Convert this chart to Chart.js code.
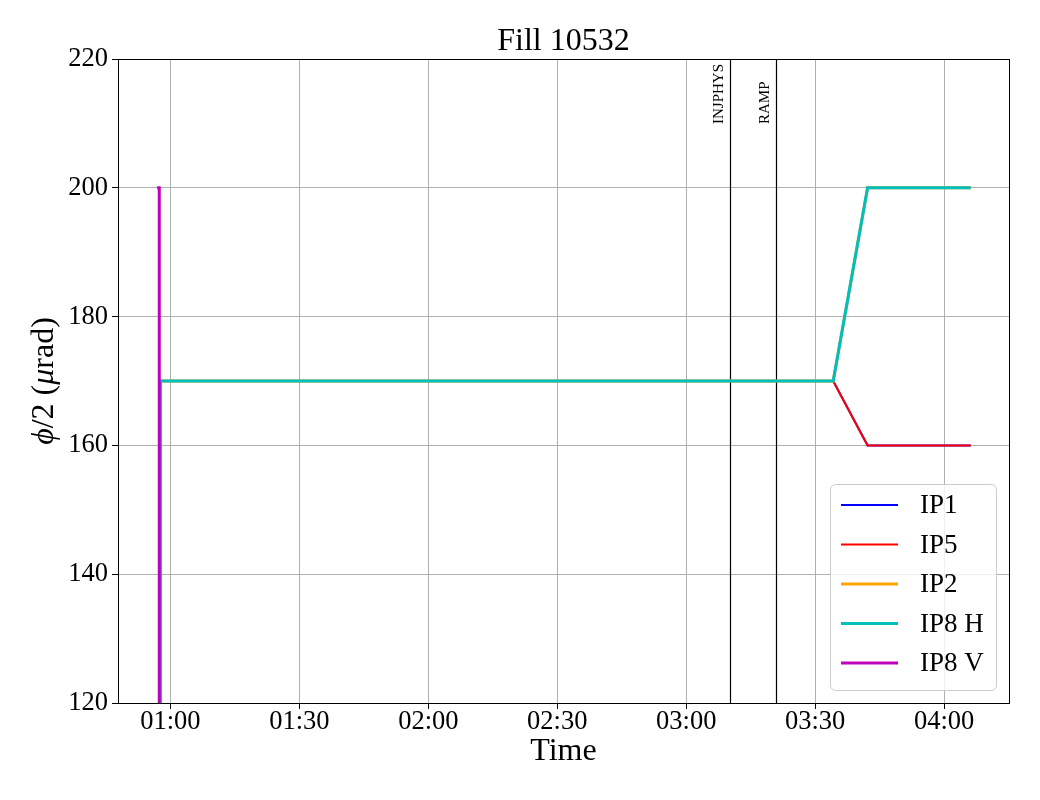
<!DOCTYPE html>
<html lang="en">
<head>
  <meta charset="UTF-8">
  <title>Fill 10532</title>
  <script src="https://cdn.jsdelivr.net/npm/chart.js"></script>
  <style>
    body {
      margin: 0;
      background-color: #fff;
    }

    #container {
      width: 1040px;
      height: 800px;
      position: relative;
    }
  </style>
</head>
<body>
  <div id="container">
    <canvas id="crossingChart" width="1040" height="800"></canvas>
  </div>

  <script>
    const SERIF = "'Liberation Serif', 'DejaVu Serif', serif";

    // time in minutes after midnight
    const xTicks = [60, 90, 120, 150, 180, 210, 240];
    const xTickLabels = ['01:00', '01:30', '02:00', '02:30', '03:00', '03:30', '04:00'];
    const yTicks = [120, 140, 160, 180, 200, 220];

    const seriesNames = ['IP1', 'IP5', 'IP2', 'IP8 H', 'IP8 V'];
    const seriesColors = ['#0000ff', '#ff0000', '#ffa500', '#00bfbf', '#bf00bf'];
    const seriesWidths = [2, 2, 3, 3, 3];

    const tMain = [57.6, 57.7, 214.2, 222.2, 246.2];
    const ip1 = [0, 170, 170, 160, 160];
    const ip5 = [0, 170, 170, 160, 160];
    const ip2 = [0, 170, 170, 200, 200];
    const ip8h = [0, 170, 170, 200, 200];
    const tIP8V = [56.9, 57.4, 57.4, 246.2];
    const ip8v = [200, 200, 0, 0];

    const markerTimes = [190.2, 200.9];
    const markerLabels = ['INJPHYS', 'RAMP'];

    const toPoints = (ts, vs) => ts.map((t, i) => ({ x: t, y: vs[i] }));
    const seriesData = [
      toPoints(tMain, ip1),
      toPoints(tMain, ip5),
      toPoints(tMain, ip2),
      toPoints(tMain, ip8h),
      toPoints(tIP8V, ip8v)
    ];

    // later series are drawn on top, like the original plot
    const datasets = seriesNames.map((name, i) => ({
      label: name,
      data: seriesData[i],
      borderColor: seriesColors[i],
      backgroundColor: seriesColors[i],
      borderWidth: seriesWidths[i],
      order: seriesNames.length - i,
      pointRadius: 0,
      tension: 0,
      fill: false
    }));

    // vertical phase markers, drawn under the data
    const markerPlugin = {
      id: 'markers',
      beforeDatasetsDraw(chart) {
        const { ctx, chartArea, scales } = chart;
        ctx.save();
        markerTimes.forEach((t, i) => {
          const x = Math.round(scales.x.getPixelForValue(t)) + 0.5;
          ctx.strokeStyle = '#000';
          ctx.lineWidth = 1.2;
          ctx.beginPath();
          ctx.moveTo(x, chartArea.top);
          ctx.lineTo(x, chartArea.bottom);
          ctx.stroke();

          ctx.save();
          ctx.translate(x - 11, chartArea.top + 65);
          ctx.rotate(-Math.PI / 2);
          ctx.font = '15px ' + SERIF;
          ctx.fillStyle = '#000';
          ctx.textAlign = 'left';
          ctx.textBaseline = 'middle';
          ctx.fillText(markerLabels[i], 0, 0);
          ctx.restore();
        });
        ctx.restore();
      }
    };

    // frame, titles and legend box
    const decorPlugin = {
      id: 'decor',
      afterDraw(chart) {
        const { ctx, chartArea } = chart;
        const { left, right, top, bottom } = chartArea;
        ctx.save();

        ctx.strokeStyle = '#000';
        ctx.lineWidth = 1;
        ctx.strokeRect(Math.round(left) + 0.5, Math.round(top) + 0.5,
          Math.round(right - left), Math.round(bottom - top));

        ctx.fillStyle = '#000';
        ctx.textAlign = 'center';
        ctx.textBaseline = 'middle';
        ctx.font = '32px ' + SERIF;
        ctx.fillText('Fill 10532', (left + right) / 2, 42);
        ctx.fillText('Time', (left + right) / 2, 752);

        // y label with italic phi and mu
        const parts = [
          ['ϕ', true], ['/2 (', false], ['μ', true], ['rad)', false]
        ];
        const fontFor = it => (it ? 'italic ' : '') + '32px ' + SERIF;
        let total = 0;
        parts.forEach(([s, it]) => { ctx.font = fontFor(it); total += ctx.measureText(s).width; });
        ctx.translate(45, (top + bottom) / 2);
        ctx.rotate(-Math.PI / 2);
        ctx.textAlign = 'left';
        let px = -total / 2;
        parts.forEach(([s, it]) => {
          ctx.font = fontFor(it);
          ctx.fillText(s, px, 0);
          px += ctx.measureText(s).width;
        });
        ctx.setTransform(1, 0, 0, 1, 0, 0);

        // legend
        const bx = 830, by = 484, bw = 166, bh = 206;
        ctx.beginPath();
        ctx.roundRect(bx + 0.5, by + 0.5, bw, bh, 5);
        ctx.fillStyle = 'rgba(255,255,255,0.8)';
        ctx.fill();
        ctx.strokeStyle = '#cccccc';
        ctx.lineWidth = 1;
        ctx.stroke();

        ctx.font = '27px ' + SERIF;
        ctx.textAlign = 'left';
        ctx.textBaseline = 'middle';
        seriesNames.forEach((name, i) => {
          const y = by + 21 + i * 39.5;
          ctx.strokeStyle = seriesColors[i];
          ctx.lineWidth = seriesWidths[i];
          ctx.beginPath();
          ctx.moveTo(841, y);
          ctx.lineTo(898, y);
          ctx.stroke();
          ctx.fillStyle = '#000';
          ctx.fillText(name, 920, y + 1);
        });

        ctx.restore();
      }
    };

    const config = {
      type: 'line',
      data: { datasets },
      options: {
        responsive: false,
        animation: false,
        layout: {
          padding: { top: 59, right: 31, left: 0, bottom: 0 }
        },
        scales: {
          x: {
            type: 'linear',
            min: 47.8,
            max: 255.1,
            afterBuildTicks: scale => {
              scale.ticks = xTicks.map(v => ({ value: v }));
            },
            afterFit: scale => { scale.height = 97; },
            ticks: {
              autoSkip: false,
              maxRotation: 0,
              padding: -3,
              color: '#000',
              font: { family: SERIF, size: 26.5 },
              callback: v => xTickLabels[xTicks.indexOf(v)]
            },
            grid: { color: '#b0b0b0', tickColor: '#000', tickLength: 6, lineWidth: 1 },
            border: { color: '#000', width: 1 }
          },
          y: {
            min: 120,
            max: 220,
            afterBuildTicks: scale => {
              scale.ticks = yTicks.map(v => ({ value: v }));
            },
            afterFit: scale => { scale.width = 118; },
            ticks: {
              padding: 4,
              color: '#000',
              font: { family: SERIF, size: 26.5 }
            },
            grid: { color: '#b0b0b0', tickColor: '#000', tickLength: 6, lineWidth: 1 },
            border: { color: '#000', width: 1 }
          }
        },
        plugins: {
          legend: { display: false },
          title: { display: false },
          tooltip: { enabled: false }
        }
      },
      plugins: [markerPlugin, decorPlugin]
    };

    new Chart(document.getElementById('crossingChart'), config);
  </script>
</body>
</html>
